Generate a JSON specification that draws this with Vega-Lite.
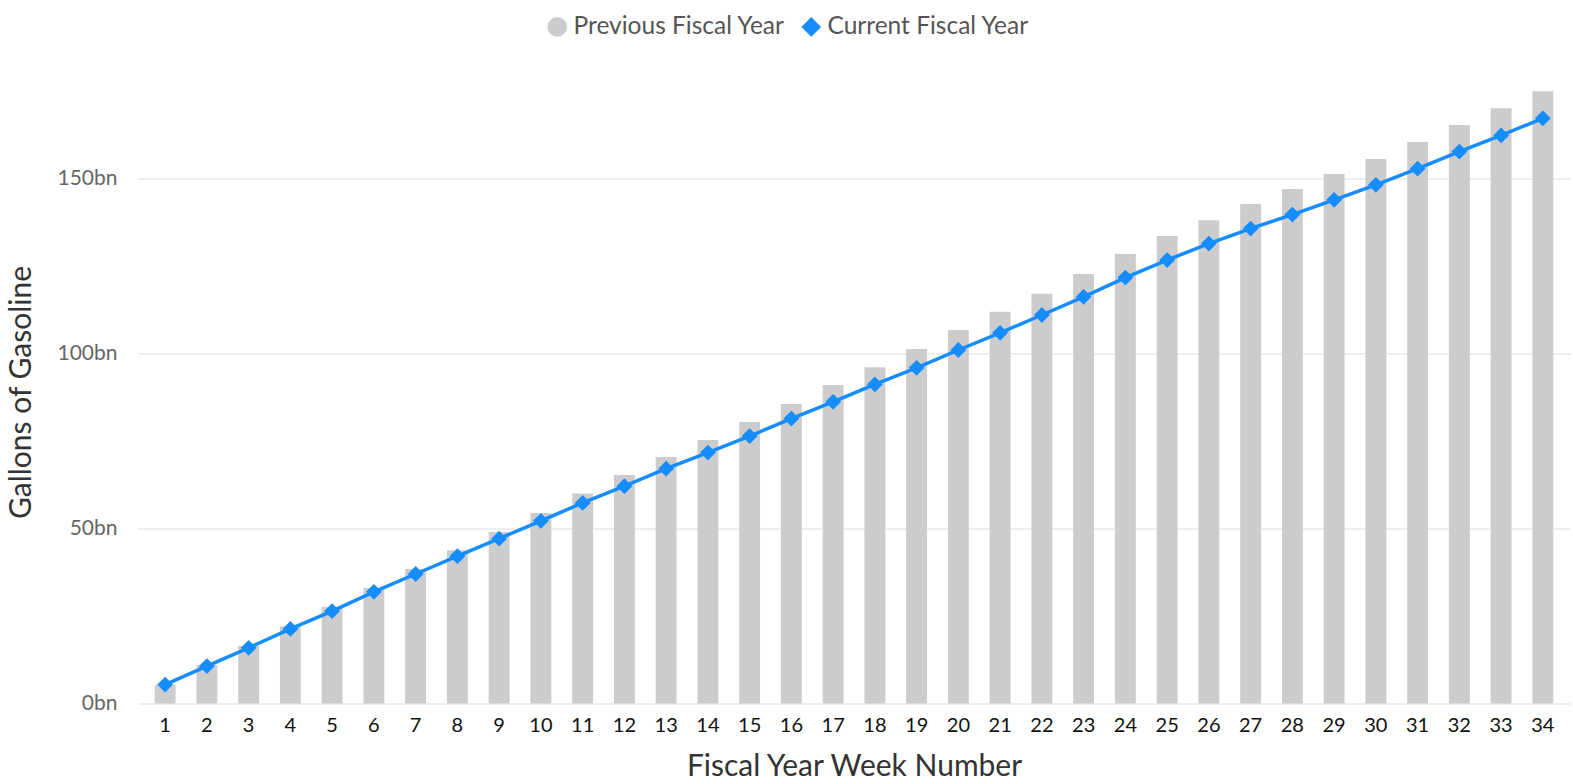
{
  "$schema": "https://vega.github.io/schema/vega-lite/v6.json",
  "width": 1432,
  "height": 623,
  "autosize": {"type": "none"},
  "padding": {"left": 138, "top": 80.5, "right": 3, "bottom": 80.5},
  "background": "white",
  "config": {
    "font": "Lato",
    "view": {"stroke": null},
    "axis": {"labelFont": "Lato", "titleFont": "Lato", "titleFontWeight": "normal"}
  },
  "data": {
    "values": [
      {"week": 1, "prev": 5.4, "curr": 5.4},
      {"week": 2, "prev": 11.0, "curr": 10.7},
      {"week": 3, "prev": 16.4, "curr": 15.9},
      {"week": 4, "prev": 22.1, "curr": 21.3},
      {"week": 5, "prev": 27.6, "curr": 26.4},
      {"week": 6, "prev": 33.0, "curr": 31.9},
      {"week": 7, "prev": 38.4, "curr": 37.0},
      {"week": 8, "prev": 43.8, "curr": 42.1},
      {"week": 9, "prev": 49.0, "curr": 47.1},
      {"week": 10, "prev": 54.4, "curr": 52.2},
      {"week": 11, "prev": 60.0, "curr": 57.3},
      {"week": 12, "prev": 65.3, "curr": 62.1},
      {"week": 13, "prev": 70.4, "curr": 67.1},
      {"week": 14, "prev": 75.3, "curr": 71.7},
      {"week": 15, "prev": 80.4, "curr": 76.4},
      {"week": 16, "prev": 85.6, "curr": 81.4},
      {"week": 17, "prev": 91.0, "curr": 86.2},
      {"week": 18, "prev": 96.1, "curr": 91.2},
      {"week": 19, "prev": 101.3, "curr": 95.9},
      {"week": 20, "prev": 106.7, "curr": 101.0},
      {"week": 21, "prev": 111.9, "curr": 105.9},
      {"week": 22, "prev": 117.1, "curr": 111.0},
      {"week": 23, "prev": 122.7, "curr": 116.2},
      {"week": 24, "prev": 128.4, "curr": 121.7},
      {"week": 25, "prev": 133.6, "curr": 126.7},
      {"week": 26, "prev": 138.1, "curr": 131.4},
      {"week": 27, "prev": 142.7, "curr": 135.7},
      {"week": 28, "prev": 147.0, "curr": 139.7},
      {"week": 29, "prev": 151.3, "curr": 143.9},
      {"week": 30, "prev": 155.6, "curr": 148.2},
      {"week": 31, "prev": 160.4, "curr": 152.8},
      {"week": 32, "prev": 165.3, "curr": 157.7},
      {"week": 33, "prev": 170.1, "curr": 162.3},
      {"week": 34, "prev": 174.9, "curr": 167.2}
    ]
  },
  "encoding": {
    "x": {
      "field": "week",
      "type": "ordinal",
      "scale": {"paddingInner": 0.5, "paddingOuter": 0.4},
      "axis": {
        "title": "Fiscal Year Week Number",
        "titleFontSize": 30,
        "titleColor": "#333333",
        "titlePadding": 16,
        "labelAngle": 0,
        "labelFontSize": 20,
        "labelColor": "#111111",
        "labelPadding": 12,
        "domain": false,
        "ticks": false,
        "tickSize": 0,
        "grid": false
      }
    }
  },
  "layer": [
    {
      "mark": {"type": "bar"},
      "encoding": {
        "y": {
          "field": "prev",
          "type": "quantitative",
          "scale": {"domain": [0, 178], "nice": false},
          "axis": {
            "title": "Gallons of Gasoline",
            "titleFontSize": 30,
            "titleColor": "#333333",
            "titlePadding": 20,
            "values": [0, 50, 100, 150],
            "labelExpr": "datum.value + 'bn'",
            "labelFontSize": 21,
            "labelColor": "#666666",
            "labelPadding": 21,
            "tickSize": 0,
            "ticks": false,
            "domain": false,
            "grid": true,
            "gridColor": "#eeeeee",
            "gridWidth": 2
          }
        },
        "color": {
          "datum": "Previous Fiscal Year",
          "type": "nominal",
          "scale": {
            "domain": ["Previous Fiscal Year", "Current Fiscal Year"],
            "range": ["#cccccc", "#168dff"]
          },
          "legend": {
            "title": null,
            "orient": "none",
            "direction": "horizontal",
            "legendX": 407,
            "legendY": -66,
            "labelFontSize": 24.5,
            "labelColor": "#555555",
            "labelFont": "Lato",
            "labelLimit": 400,
            "symbolSize": 390,
            "symbolStrokeWidth": 0,
            "labelOffset": 4,
            "columnPadding": 14
          }
        }
      }
    },
    {
      "mark": {"type": "line", "strokeWidth": 3.5},
      "encoding": {
        "y": {"field": "curr", "type": "quantitative"},
        "color": {"datum": "Current Fiscal Year", "type": "nominal"}
      }
    },
    {
      "mark": {"type": "point", "filled": true, "opacity": 1, "size": 250},
      "encoding": {
        "y": {"field": "curr", "type": "quantitative"},
        "color": {"datum": "Current Fiscal Year", "type": "nominal"},
        "shape": {
          "datum": "Current Fiscal Year",
          "type": "nominal",
          "scale": {
            "domain": ["Previous Fiscal Year", "Current Fiscal Year"],
            "range": ["circle", "diamond"]
          },
          "legend": {
            "title": null,
            "orient": "none",
            "direction": "horizontal",
            "legendX": 407,
            "legendY": -66,
            "labelFontSize": 24.5,
            "labelColor": "#555555",
            "labelFont": "Lato",
            "labelLimit": 400,
            "symbolSize": 390,
            "symbolStrokeWidth": 0,
            "labelOffset": 4,
            "columnPadding": 14
          }
        }
      }
    }
  ]
}
